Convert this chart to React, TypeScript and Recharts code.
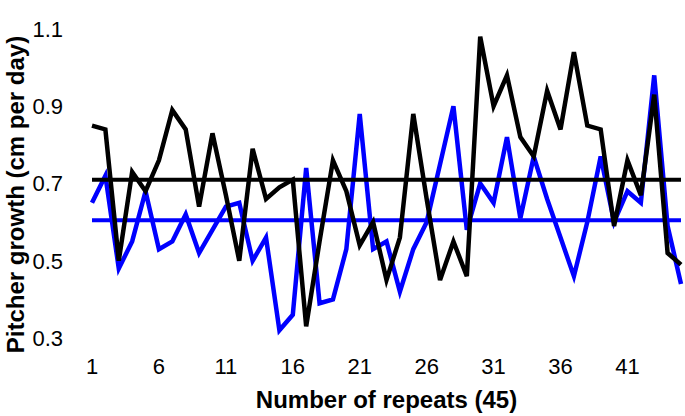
import { LineChart, Line, XAxis, YAxis, ReferenceLine } from 'recharts';

// repeat number (x axis)
const repeats = [
  1, 2, 3, 4, 5, 6, 7, 8, 9, 10, 11, 12, 13, 14, 15, 16, 17, 18, 19, 20, 21, 22, 23,
  24, 25, 26, 27, 28, 29, 30, 31, 32, 33, 34, 35, 36, 37, 38, 39, 40, 41, 42, 43, 44, 45,
];

// pitcher growth, cm per day
const blackSeries = [
  0.85, 0.84, 0.5, 0.73, 0.68, 0.76, 0.89, 0.84, 0.64, 0.83,
  0.67, 0.5, 0.79, 0.66, 0.69, 0.71, 0.33, 0.55, 0.76, 0.68,
  0.54, 0.6, 0.45, 0.56, 0.88, 0.66, 0.45, 0.55, 0.46, 1.08,
  0.9, 0.98, 0.82, 0.77, 0.94, 0.84, 1.04, 0.85, 0.84, 0.59,
  0.76, 0.67, 0.93, 0.52, 0.49,
];
const blueSeries = [
  0.65, 0.72, 0.48, 0.55, 0.68, 0.53, 0.55, 0.62, 0.52, 0.58,
  0.64, 0.65, 0.5, 0.56, 0.32, 0.36, 0.74, 0.39, 0.4, 0.53,
  0.88, 0.53, 0.55, 0.42, 0.53, 0.6, 0.75, 0.9, 0.58, 0.7,
  0.65, 0.82, 0.61, 0.77, 0.66, 0.56, 0.46, 0.6, 0.77, 0.6,
  0.68, 0.65, 0.98, 0.59, 0.44,
];

// mean lines
const blackMean = 0.71;
const blueMean = 0.605;

const xTicks = [1, 6, 11, 16, 21, 26, 31, 36, 41];
const yTicks = [0.3, 0.5, 0.7, 0.9, 1.1];

const data = repeats.map((r, i) => ({ repeat: r, black: blackSeries[i], blue: blueSeries[i] }));

const FONT = '"Liberation Sans", Arial, sans-serif';

const YTitle = (props: any) => {
  const vb = props.viewBox || { x: 0, y: 29, width: 92, height: 309 };
  const x = vb.x + 15;
  const y = vb.y + vb.height / 2 + 11;
  return (
    <text
      x={x}
      y={y}
      transform={`rotate(-90 ${x} ${y})`}
      textAnchor="middle"
      dominantBaseline="central"
      fontFamily={FONT}
      fontWeight="bold"
      fontSize={24}
      fill="#000"
    >
      Pitcher growth (cm per day)
    </text>
  );
};

export default function App() {
  return (
    <div style={{ position: 'absolute', left: 0, top: 0, background: '#fff' }}>
      <LineChart width={685} height={416} data={data} margin={{ top: 29, right: 4, left: 0, bottom: 0 }}>
        <XAxis
          dataKey="repeat"
          type="number"
          domain={[1, 45]}
          ticks={xTicks}
          axisLine={false}
          tickLine={false}
          tickSize={0}
          tickMargin={20}
          height={78}
          tick={{ fill: '#000', fontSize: 22, fontFamily: FONT }}
          label={{
            value: 'Number of repeats (45)',
            position: 'insideBottom',
            offset: 8,
            fontSize: 24,
            fontWeight: 'bold',
            fontFamily: FONT,
            fill: '#000',
          }}
        />
        <YAxis
          domain={[0.3, 1.1]}
          ticks={yTicks}
          allowDataOverflow
          axisLine={false}
          tickLine={false}
          tickSize={0}
          tickMargin={29}
          width={92}
          tickFormatter={(v: number) => v.toFixed(1)}
          tick={{ fill: '#000', fontSize: 22, fontFamily: FONT }}
          label={<YTitle />}
        />
        <ReferenceLine y={blueMean} stroke="#0000ff" strokeWidth={4} />
        <Line type="linear" dataKey="blue" stroke="#0000ff" strokeWidth={4.5} dot={false} isAnimationActive={false} />
        <ReferenceLine y={blackMean} stroke="#000" strokeWidth={4} />
        <Line type="linear" dataKey="black" stroke="#000" strokeWidth={4.5} dot={false} isAnimationActive={false} />
      </LineChart>
    </div>
  );
}
